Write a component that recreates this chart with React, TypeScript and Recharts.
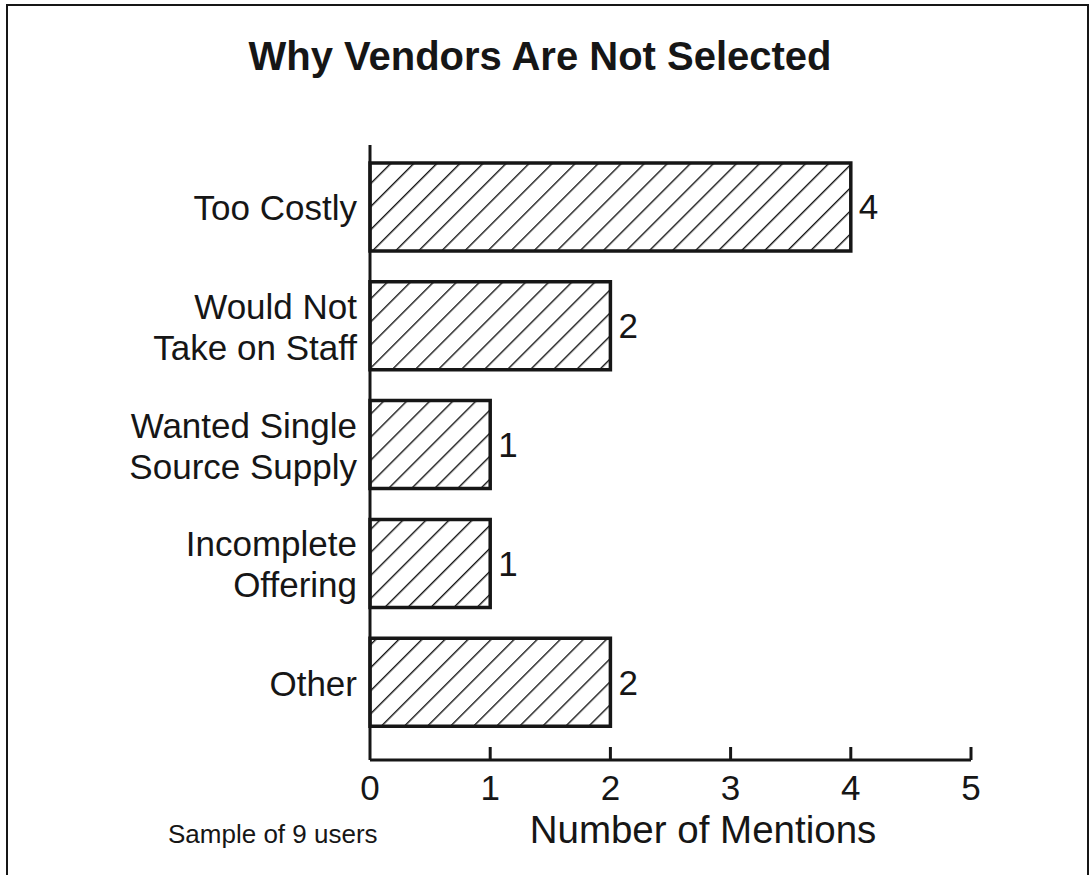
import { BarChart, Bar, XAxis, YAxis, LabelList, Label } from "recharts";

const categories = [
  "Too Costly",
  "Would Not\nTake on Staff",
  "Wanted Single\nSource Supply",
  "Incomplete\nOffering",
  "Other",
];
const mentions = [4, 2, 1, 1, 2];
const xTicks = [0, 1, 2, 3, 4, 5];

const chartData = categories.map((name, i) => ({ name, value: mentions[i] }));

const FONT = '"Liberation Sans", Arial, Helvetica, sans-serif';
const INK = "#161616";

function CategoryTick({ x, y, payload }: any) {
  const lines = String(payload.value).split("\n");
  const lh = 41;
  const start = y - ((lines.length - 1) * lh) / 2;
  return (
    <text x={x - 13} y={start} textAnchor="end" dominantBaseline="central" fontSize={35} fill={INK} fontFamily={FONT}>
      {lines.map((l, i) => (
        <tspan key={i} x={x - 13} y={start + i * lh} dominantBaseline="central">
          {l}
        </tspan>
      ))}
    </text>
  );
}

function ValueTick({ x, y, payload }: any) {
  return (
    <g>
      {payload.value !== 0 && <line x1={x} x2={x} y1={y} y2={y - 13} stroke={INK} strokeWidth={3} />}
      <text x={x} y={y + 40} textAnchor="middle" fontSize={35} fill={INK} fontFamily={FONT}>
        {payload.value}
      </text>
    </g>
  );
}

export default function App() {
  return (
    <div style={{ position: "absolute", left: 0, top: 0, width: 1090, height: 875, background: "#fff", overflow: "hidden" }}>
      <div style={{ position: "absolute", left: 6, top: 4, width: 1079, height: 900, border: `2px solid ${INK}` }} />
      <div style={{ position: "absolute", left: 0, top: 0 }}>
        <BarChart
          width={1090}
          height={875}
          data={chartData}
          layout="vertical"
          margin={{ top: 145, right: 119, bottom: 55, left: 10 }}
        >
          <defs>
            <pattern id="hatch" patternUnits="userSpaceOnUse" width={16.3} height={16.3} patternTransform="rotate(45)">
              <rect width={16.3} height={16.3} fill="#fff" />
              <line x1={0} y1={0} x2={0} y2={16.3} stroke={INK} strokeWidth={2.8} />
            </pattern>
          </defs>
          <text x={540} y={70} textAnchor="middle" fontSize={40} fontWeight="bold" fill={INK} fontFamily={FONT}>
            Why Vendors Are Not Selected
          </text>
          <text x={168} y={843} textAnchor="start" fontSize={26} fill={INK} fontFamily={FONT}>
            Sample of 9 users
          </text>
          <XAxis
            type="number"
            domain={[0, 5]}
            ticks={xTicks}
            interval={0}
            height={60}
            tickSize={0}
            tickMargin={0}
            tickLine={false}
            axisLine={{ stroke: INK, strokeWidth: 3 }}
            tick={<ValueTick />}
          >
            <Label
              content={() => (
                <text x={703} y={843} textAnchor="middle" fontSize={38.5} fill={INK} fontFamily={FONT}>
                  Number of Mentions
                </text>
              )}
            />
          </XAxis>
          <YAxis
            type="category"
            dataKey="name"
            width={360}
            padding={{ top: 3, bottom: 18 }}
            tickLine={false}
            tickSize={0}
            tickMargin={0}
            axisLine={{ stroke: INK, strokeWidth: 3 }}
            tick={<CategoryTick />}
            interval={0}
          />
          <Bar dataKey="value" fill="url(#hatch)" stroke={INK} strokeWidth={3.5} barSize={88} isAnimationActive={false}>
            <LabelList dataKey="value" position="right" offset={8} fontSize={35} fill={INK} fontFamily={FONT} />
          </Bar>
        </BarChart>
      </div>
    </div>
  );
}
